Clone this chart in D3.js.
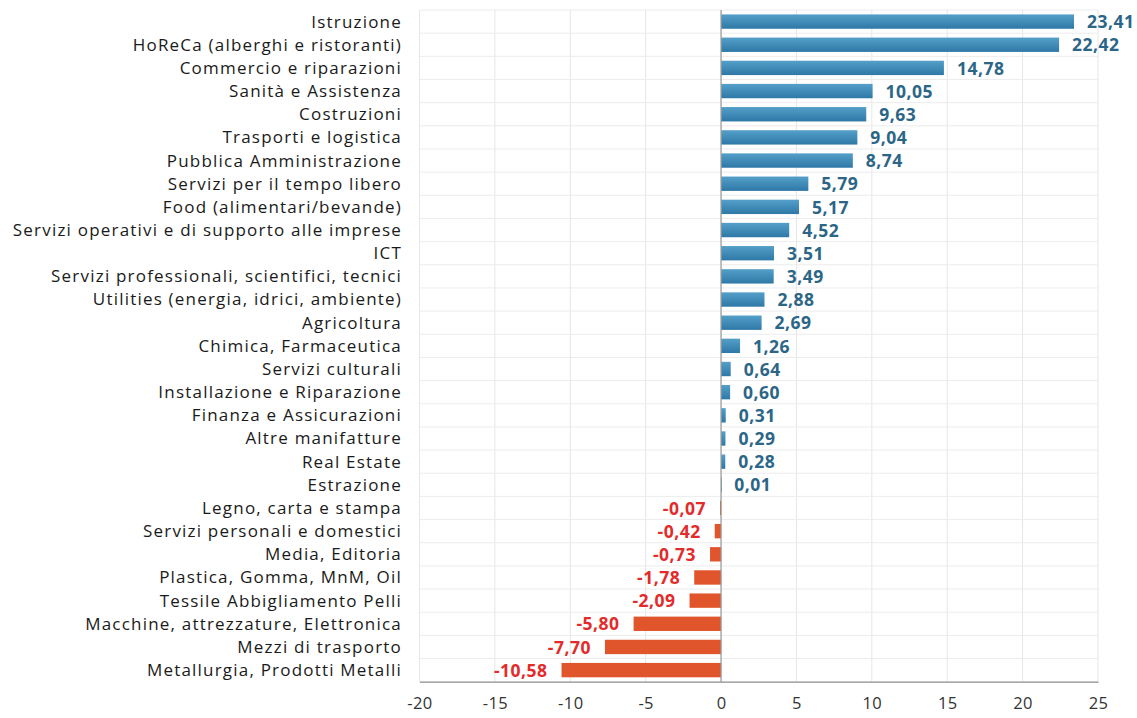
<!DOCTYPE html>
<html><head><meta charset="utf-8">
<script src="https://cdn.jsdelivr.net/npm/d3@7"></script>
<style>body{margin:0;background:#fff}svg{display:block}</style>
</head><body>
<svg id="c" width="1137" height="718"></svg>
<script>
const categories = ["Istruzione","HoReCa (alberghi e ristoranti)","Commercio e riparazioni","Sanità e Assistenza","Costruzioni","Trasporti e logistica","Pubblica Amministrazione","Servizi per il tempo libero","Food (alimentari/bevande)","Servizi operativi e di supporto alle imprese","ICT","Servizi professionali, scientifici, tecnici","Utilities (energia, idrici, ambiente)","Agricoltura","Chimica, Farmaceutica","Servizi culturali","Installazione e Riparazione","Finanza e Assicurazioni","Altre manifatture","Real Estate","Estrazione","Legno, carta e stampa","Servizi personali e domestici","Media, Editoria","Plastica, Gomma, MnM, Oil","Tessile Abbigliamento Pelli","Macchine, attrezzature, Elettronica","Mezzi di trasporto","Metallurgia, Prodotti Metalli"];
const values = [23.41,22.42,14.78,10.05,9.63,9.04,8.74,5.79,5.17,4.52,3.51,3.49,2.88,2.69,1.26,0.64,0.60,0.31,0.29,0.28,0.01,-0.07,-0.42,-0.73,-1.78,-2.09,-5.80,-7.70,-10.58];
const xTicks = [-20,-15,-10,-5,0,5,10,15,20,25];

const FONT = "'Open Sans', sans-serif";
const svg = d3.select("#c");
const L = 419.5, R = 1098, T = 10, B = 681.7;
const x = d3.scaleLinear().domain([-20,25]).range([L,R]);
const y = d3.scaleBand().domain(categories).range([T,B]).paddingInner(0.38).paddingOuter(0.19);
const yb = d3.scaleBand().domain(categories).range([T,B]);

const defs = svg.append("defs");
const gp = defs.append("linearGradient").attr("id","gpos").attr("x1",0).attr("x2",0).attr("y1",0).attr("y2",1);
gp.append("stop").attr("offset","0").attr("stop-color","#55a0c9");
gp.append("stop").attr("offset","1").attr("stop-color","#2d78a6");

// grid
const g = svg.append("g");
g.selectAll("line.v").data(xTicks).join("line")
  .attr("x1",d=>x(d)).attr("x2",d=>x(d)).attr("y1",T).attr("y2",B)
  .attr("stroke","#e6e6e6").attr("stroke-width",1);
g.selectAll("line.h").data(categories).join("line")
  .attr("x1",L).attr("x2",R).attr("y1",d=>yb(d)).attr("y2",d=>yb(d))
  .attr("stroke","#ececec").attr("stroke-width",1);

// bars
svg.append("g").selectAll("rect").data(values).join("rect")
  .attr("x",d=>x(Math.min(0,d))).attr("width",d=>Math.max(0.8,Math.abs(x(d)-x(0))))
  .attr("y",(d,i)=>y(categories[i])).attr("height",y.bandwidth())
  .attr("fill",d=>d>=0?"url(#gpos)":"#e0552b");

// zero line & bottom axis
svg.append("line").attr("x1",x(0)).attr("x2",x(0)).attr("y1",T).attr("y2",B).attr("stroke","#9a9a9a").attr("stroke-width",1.2);
const ax = svg.append("g").attr("transform",`translate(0,${B})`)
  .call(d3.axisBottom(x).tickValues(xTicks).tickSize(0).tickPadding(16).tickFormat(d=>d));
ax.select(".domain").attr("stroke","#8c8c8c").attr("stroke-width",1.3);
ax.selectAll("text").attr("font-family",FONT).attr("font-size",16.5).attr("fill","#333").attr("letter-spacing",0.4);

// category labels
const cl = svg.append("g").selectAll("text").data(categories).join("text")
  .attr("x",402).attr("y",d=>yb(d)+yb.bandwidth()/2).attr("dy","0.35em")
  .attr("text-anchor","end").attr("font-family",FONT).attr("font-size",17).attr("fill","#1a1a1a")
  .text(d=>d);
// widen with letter spacing to match reference text extent
let longest = 0, longestN = 1;
cl.each(function(d){ const w=this.getComputedTextLength(); if(w>longest){longest=w;longestN=d.length;} });
const ls = Math.max(0,(388-longest)/(longestN-1));
cl.attr("letter-spacing",ls);

// value labels
const fmt = v => v.toFixed(2).replace(".",",");
svg.append("g").selectAll("text").data(values).join("text")
  .attr("x",d=>d>=0? x(d)+13 : x(d)-14)
  .attr("y",(d,i)=>yb(categories[i])+yb.bandwidth()/2).attr("dy","0.38em")
  .attr("text-anchor",d=>d>=0?"start":"end")
  .attr("font-family",FONT).attr("font-weight","bold").attr("font-size",17.5).attr("letter-spacing",0.5)
  .attr("fill",d=>d>=0?"#2c6687":"#e32b2b")
  .text(d=>fmt(d));
</script>
</body></html>
